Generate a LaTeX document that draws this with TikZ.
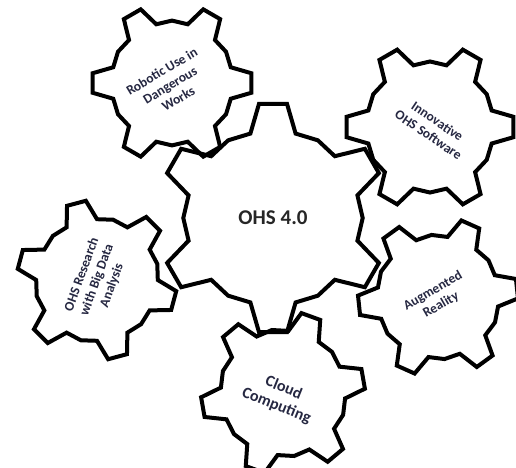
\documentclass[tikz,border=0pt]{standalone}
\usepackage{fontspec}
\setmainfont{Carlito}
\usetikzlibrary{calc}
\definecolor{textnavy}{RGB}{38,40,66}
\tikzstyle{gearline} = [line width=4pt, line join=miter, draw=black]
\tikzstyle{geartext} = [text=textnavy, align=center, inner sep=0pt, font=\bfseries\fontsize{13.5}{16}\selectfont]
% gear outline: centre x, centre y, outer radius, rotation
\def\gear(#1,#2,#3,#4){\draw[gearline, shift={(#1,#2)}, rotate=#4] ({-30}:{0.78*#3}) \foreach \a in {0,60,...,300} { -- ({\a-15}:{0.76*#3}) -- ({\a-7}:{#3}) -- ({\a+7}:{#3}) -- ({\a+15}:{0.76*#3}) -- ({\a+30}:{0.78*#3}) } -- cycle;}

\begin{document}
\begin{tikzpicture}[x=1pt, y=1pt]
\clip (0,0) rectangle (516,467);
\fill[white] (0,0) rectangle (516,467);
\gear(273,249,115,30)
\gear(172,384,80,0)
\gear(430,340,84,0)
\gear(97,187,80,-15)
\gear(438,170,80,6)
\gear(283,74,82,10)
\node[geartext, font=\bfseries\fontsize{21}{24}\selectfont, text=black!85] (ohs) at (273,249) {OHS 4.0};
\node[geartext, rotate=31] (robotic) at (170,382) {Robotic Use in\\Dangerous\\Works};
\node[geartext, rotate=-34] (software) at (433,339) {Innovative\\OHS Software};
\node[geartext, rotate=70] (research) at (97,187) {OHS Research\\with Big Data\\Analysis};
\node[geartext, rotate=30] (augmented) at (437,169) {Augmented\\Reality};
\node[geartext, rotate=-22, font=\bfseries\fontsize{16}{19}\selectfont] (cloud) at (280,70) {Cloud\\Computing};
\end{tikzpicture}
\end{document}
